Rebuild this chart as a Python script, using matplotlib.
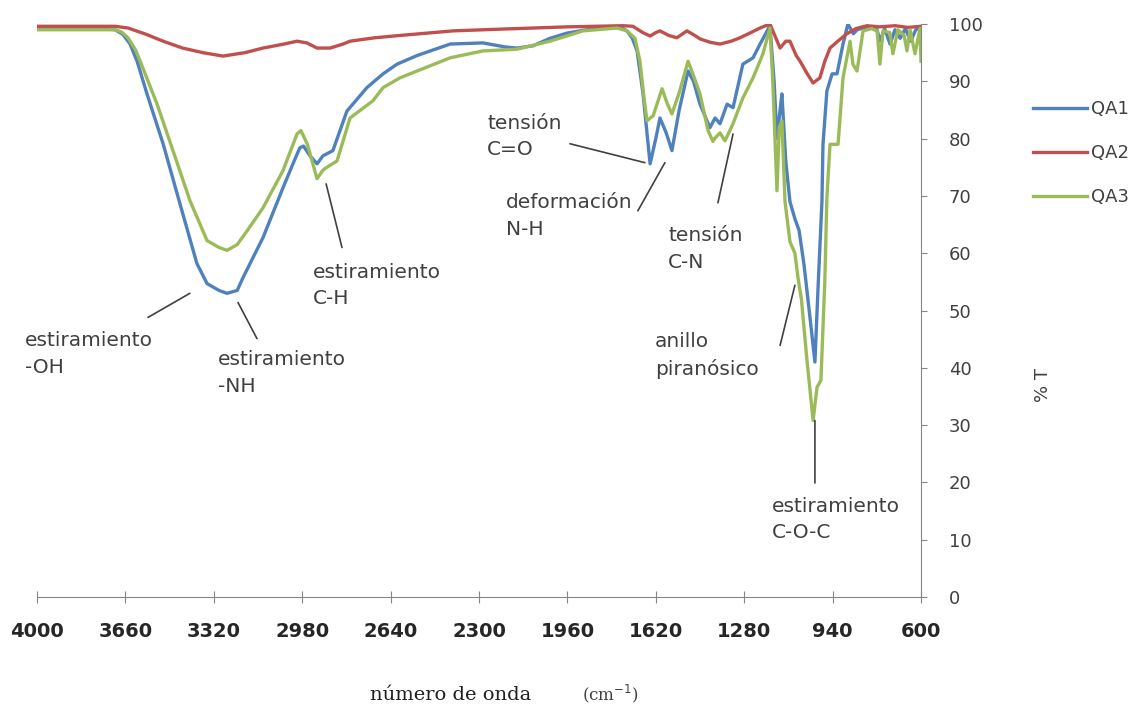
import matplotlib
matplotlib.use("Agg")
import matplotlib.pyplot as plt
import numpy as np

wn_qa1 = [4000, 3750, 3700, 3670, 3642, 3615, 3577, 3515, 3450, 3385, 3346, 3300, 3269,
          3230, 3208, 3131, 3054, 3010, 2989, 2975, 2950, 2923, 2900, 2862, 2808, 2731,
          2669, 2615, 2538, 2411, 2285, 2200, 2154, 2092, 2027, 1962, 1900, 1835, 1780,
          1746, 1731, 1710, 1692, 1669, 1642, 1620, 1604, 1580, 1558, 1530, 1496, 1475,
          1450, 1412, 1392, 1373, 1346, 1323, 1300, 1285, 1246, 1219, 1181, 1165, 1154,
          1142, 1135, 1120, 1104, 1085, 1069, 1050, 1030, 1008, 995, 981, 977, 962, 942,
          923, 900, 881, 860, 846, 823, 800, 769, 758, 740, 719, 700, 680, 660, 640, 620, 600]
t_qa1 = [99.2, 99.2, 99.0, 98.2, 96.5, 93.5, 87.8, 79.1, 68.6, 58.2, 54.7, 53.5, 53.0,
         53.5, 55.7, 62.7, 71.4, 76.2, 78.4, 78.7, 77.0, 75.6, 77.0, 77.9, 84.8, 88.9,
         91.3, 93.0, 94.5, 96.5, 96.7, 96.0, 95.8, 96.2, 97.5, 98.4, 98.9, 99.3, 99.4,
         99.2, 98.8, 97.5, 95.3, 87.8, 75.6, 80.0, 83.6, 81.0, 77.9, 85.0, 91.8, 90.0,
         86.0, 81.9, 83.6, 82.6, 86.0, 85.4, 90.0, 93.0, 94.1, 96.5, 99.7, 90.0, 80.0,
         85.0, 87.8, 76.0, 69.0, 66.0, 64.0, 58.0, 50.0, 41.0, 55.0, 69.0, 79.0, 88.3, 91.3,
         91.3, 96.5, 100.0, 98.3, 99.0, 99.3, 99.5, 99.0, 97.0, 99.2, 96.5, 99.0, 97.5,
         99.2, 97.0, 99.0, 99.5]

wn_qa2 = [4000, 3700, 3650, 3580, 3515, 3440, 3362, 3285, 3200, 3131, 3050, 3000, 2962,
          2923, 2873, 2823, 2796, 2700, 2604, 2400, 2219, 1962, 1746, 1708, 1670, 1642,
          1620, 1604, 1570, 1539, 1500, 1470, 1450, 1410, 1373, 1330, 1296, 1250, 1219,
          1181, 1142, 1120, 1104, 1080, 1065, 1040, 1015, 989, 970, 950, 920, 885, 850,
          808, 760, 700, 650, 600]
t_qa2 = [99.6, 99.6, 99.3, 98.2, 97.0, 95.8, 95.0, 94.4, 95.0, 95.8, 96.5, 97.0, 96.7,
         95.8, 95.8, 96.5, 97.0, 97.6, 98.0, 98.8, 99.1, 99.5, 99.7, 99.6, 98.5, 97.9,
         98.5, 98.8, 98.0, 97.6, 98.8, 98.0, 97.4, 96.8, 96.5, 97.0, 97.6, 98.6, 99.3,
         100.0, 95.8, 97.0, 97.0, 94.5, 93.5, 91.5, 89.7, 90.6, 93.5, 95.8, 97.0, 98.3, 99.2,
         99.7, 99.5, 99.7, 99.4, 99.6]

wn_qa3 = [4000, 3700, 3675, 3650, 3620, 3590, 3538, 3477, 3412, 3346, 3300, 3269, 3230,
          3192, 3131, 3054, 3000, 2985, 2960, 2923, 2900, 2885, 2846, 2796, 2708, 2669,
          2604, 2538, 2411, 2285, 2154, 2027, 1900, 1769, 1731, 1700, 1681, 1665, 1654,
          1630, 1596, 1575, 1558, 1530, 1496, 1475, 1450, 1419, 1400, 1392, 1373, 1354,
          1323, 1285, 1246, 1208, 1181, 1170, 1154, 1145, 1135, 1123, 1104, 1085, 1073,
          1060, 1040, 1015, 1000, 985, 970, 962, 950, 919, 900, 873, 862, 846, 823, 790,
          769, 758, 746, 720, 708, 689, 665, 654, 642, 623, 604, 600]
t_qa3 = [99.0, 99.0, 98.6, 97.6, 95.4, 92.0, 86.0, 77.9, 69.2, 62.2, 61.0, 60.5, 61.5,
         63.9, 67.9, 74.4, 80.8, 81.4, 79.0, 73.0, 74.5, 75.0, 76.1, 83.6, 86.6, 88.9,
         90.6, 91.8, 94.1, 95.3, 95.6, 97.0, 98.8, 99.3, 98.8, 97.5, 93.5, 87.0, 83.1,
         84.0, 88.7, 86.0, 84.3, 88.0, 93.5, 91.0, 87.8, 81.4, 79.5, 80.1, 81.0, 79.6,
         82.6, 87.1, 90.6, 94.8, 99.3, 90.0, 70.9, 82.0, 83.1, 69.0, 62.0, 60.0, 55.7,
         52.0, 42.0, 30.8, 36.6, 37.8, 55.0, 69.7, 79.0, 79.0, 90.6, 97.0, 93.0, 91.8,
         98.8, 99.2, 98.8, 93.0, 98.8, 98.5, 94.8, 99.0, 98.0, 95.3, 99.0, 94.8, 99.2, 93.5]

series = ["QA1", "QA2", "QA3"]
colores = ["#4F81BD", "#C0504D", "#9BBB59"]
x_ticks = [4000, 3660, 3320, 2980, 2640, 2300, 1960, 1620, 1280, 940, 600]
y_ticks = [0, 10, 20, 30, 40, 50, 60, 70, 80, 90, 100]

# anotaciones: texto, posición del texto, inicio y fin de la línea guía
anotaciones = [
    ("estiramiento\n-OH", (4046, 46.4), (3573, 48.8), (3412, 53.0)),
    ("estiramiento\n-NH", (3304, 43.1), (3227, 51.4), (3154, 45.1)),
    ("estiramiento\nC-H", (2938, 58.3), (2888, 72.1), (2827, 61.0)),
    ("tensión\nC=O", (2269, 84.3), (1950, 79.1), (1662, 75.8)),
    ("deformación\nN-H", (2196, 70.5), (1689, 67.4), (1585, 75.8)),
    ("tensión\nC-N", (1573, 64.7), (1381, 68.8), (1323, 80.8)),
    ("anillo\npiranósico", (1623, 46.2), (1142, 43.9), (1085, 54.4)),
    ("estiramiento\nC-O-C", (1173, 17.5), (1008, 30.8), (1008, 19.9)),
]

fig = plt.figure(figsize=(11.36, 7.1), dpi=100)
ax = fig.add_axes([37 / 1136, 1 - 597 / 710, 884 / 1136, 573 / 710])

for wn, t, nombre, c in zip([wn_qa1, wn_qa2, wn_qa3], [t_qa1, t_qa2, t_qa3], series, colores):
    ax.plot(wn, t, color=c, linewidth=2.4, label=nombre, solid_joinstyle='round')

ax.set_xlim(4000, 600)
ax.set_ylim(0, 100)

# ejes estilo Excel: eje Y a la derecha
ax.spines['left'].set_visible(False)
ax.spines['top'].set_visible(False)
ax.spines['right'].set_color('#868686')
ax.spines['bottom'].set_color('#868686')
ax.yaxis.tick_right()
ax.set_yticks(y_ticks)
ax.set_xticks(x_ticks)
ax.tick_params(axis='y', direction='out', length=4, color='#868686', pad=16,
               labelsize=13, labelcolor='#404040')
ax.tick_params(axis='x', direction='inout', length=8, color='#868686', pad=14,
               labelsize=14, labelcolor='#262626')
for lab in ax.get_xticklabels():
    lab.set_fontweight('bold')

for texto, pos, p1, p2 in anotaciones:
    ax.text(pos[0], pos[1], texto, fontsize=14.5, color='#404040', va='top', ha='left',
            linespacing=1.5, clip_on=False)
    ax.annotate('', xy=p2, xytext=p1,
                arrowprops=dict(arrowstyle='-', color='#404040', lw=1.2,
                                shrinkA=0, shrinkB=0))

leg = ax.legend(loc='upper left', bbox_to_anchor=(1033 / 1136, 1 - 100 / 710),
                bbox_transform=fig.transFigure, frameon=False, fontsize=13,
                handlelength=3.0, handletextpad=0.2, labelspacing=1.45,
                borderpad=0, borderaxespad=0)
for txt in leg.get_texts():
    txt.set_color('#404040')

fig.text(1043 / 1136, 1 - 385 / 710, '% T', rotation=90, fontsize=13,
         color='#404040', ha='center', va='center')
fig.text(370 / 1136, 1 - 700 / 710, 'número de onda', family='DejaVu Serif',
         fontsize=14, color='#202020', ha='left', va='baseline')
fig.text(582 / 1136, 1 - 700 / 710, '(cm$^{-1}$)', family='DejaVu Serif',
         fontsize=12, color='#404040', ha='left', va='baseline')

fig.savefig('out.png', dpi=100)
